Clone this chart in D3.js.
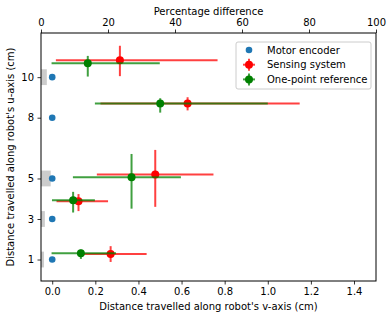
<!DOCTYPE html>
<html>
<head>
<meta charset="utf-8">
<script src="https://cdn.jsdelivr.net/npm/d3@7"></script>
<style>
  body { margin: 0; background: #fff; }
  svg { display: block; font-family: "DejaVu Sans", sans-serif; }
  .tick text { font-size: 10px; fill: #000; font-family: "DejaVu Sans", sans-serif; }
</style>
</head>
<body>
<svg id="chart" width="392" height="319"></svg>
<script>
// motor encoder readings (v, u)
const motorU = [1, 3, 5, 8, 10]
const motorV = [0, 0, 0, 0, 0]
// grey boxes on the left edge: right end of each box (cm), null = none
const boxRight = [-0.038, -0.034, -0.007, null, -0.025]

// sensing system (red)
const senseV = [0.271, 0.122, 0.478, 0.628, 0.314]
const senseU = [1.27, 3.88, 5.20, 8.70, 10.84]
const senseVlo = [0.144, 0.020, 0.207, 0.224, 0.017]
const senseVhi = [0.438, 0.259, 0.748, 1.148, 0.767]
const senseUlo = [0.88, 3.39, 3.60, 8.36, 10.05]
const senseUhi = [1.66, 4.23, 6.41, 9.01, 11.55]

// one-point reference (green)
const oneV = [0.133, 0.097, 0.368, 0.501, 0.165]
const oneU = [1.31, 3.93, 5.06, 8.70, 10.69]
const oneVlo = [-0.003, -0.001, 0.096, 0.198, -0.003]
const oneVhi = [0.296, 0.198, 0.597, 1.0, 0.499]
const oneUlo = [1.03, 3.32, 3.51, 8.25, 10.03]
const oneUhi = [1.49, 4.34, 6.21, 8.96, 11.05]

const xTicks = [0, 0.2, 0.4, 0.6, 0.8, 1.0, 1.2, 1.4]
const topTicks = [0, 20, 40, 60, 80, 100]
const yTicks = [1, 3, 5, 8, 10]

const margin = {top: 33, right: 16, bottom: 38, left: 41}
const width = 392 - margin.left - margin.right,
      height = 319 - margin.top - margin.bottom;

let svg = d3.select("#chart")
let chart = svg.append("g")
    .attr("transform", "translate(" + margin.left + "," + margin.top + ")");

let x = d3.scaleLinear().domain([-0.052, 1.502]).range([0, width])
let xTop = d3.scaleLinear().domain([0, 100]).range([0, width])
let y = d3.scaleLinear().domain([-0.06, 12.18]).range([height, 0])

svg.append("defs").append("clipPath").attr("id", "clip")
  .append("rect").attr("width", width).attr("height", height)

let plot = chart.append("g").attr("clip-path", "url(#clip)")

// grey boxes
motorU.forEach(function(u, i) {
  if (boxRight[i] === null) return
  plot.append("rect")
    .attr("x", x(-0.1))
    .attr("y", y(u + 0.39))
    .attr("width", x(boxRight[i]) - x(-0.1))
    .attr("height", y(u - 0.39) - y(u + 0.39))
    .attr("fill", "#cccccc")
})

// motor encoder points
motorU.forEach(function(u, i) {
  plot.append("circle")
    .attr("cx", x(motorV[i])).attr("cy", y(u)).attr("r", 3.3)
    .attr("fill", "#1f77b4")
})

function drawErr(vs, us, vlo, vhi, ulo, uhi, color) {
  let g = plot.append("g")
  vs.forEach(function(v, i) {
    g.append("line")
      .attr("x1", x(vlo[i])).attr("x2", x(vhi[i]))
      .attr("y1", y(us[i])).attr("y2", y(us[i]))
      .attr("stroke", color).attr("stroke-opacity", 0.75).attr("stroke-width", 2)
    g.append("line")
      .attr("x1", x(v)).attr("x2", x(v))
      .attr("y1", y(ulo[i])).attr("y2", y(uhi[i]))
      .attr("stroke", color).attr("stroke-opacity", 0.75).attr("stroke-width", 2)
  })
  vs.forEach(function(v, i) {
    g.append("circle")
      .attr("cx", x(v)).attr("cy", y(us[i])).attr("r", 4)
      .attr("fill", color)
  })
}
drawErr(senseV, senseU, senseVlo, senseVhi, senseUlo, senseUhi, "#ff0000")
drawErr(oneV, oneU, oneVlo, oneVhi, oneUlo, oneUhi, "#008000")

// axes
chart.append("g")
  .attr("transform", "translate(0," + height + ")")
  .call(d3.axisBottom(x).tickValues(xTicks).tickFormat(d3.format(".1f")).tickSize(3.5).tickPadding(3.5))
chart.append("g")
  .call(d3.axisTop(xTop).tickValues(topTicks).tickSize(3.5).tickPadding(3.5))
chart.append("g")
  .call(d3.axisLeft(y).tickValues(yTicks).tickSize(3.5).tickPadding(3.5))
chart.selectAll(".domain").remove()
chart.selectAll(".tick line").attr("stroke", "#000").attr("stroke-width", 0.8)

chart.append("rect")
  .attr("width", width).attr("height", height)
  .attr("fill", "none").attr("stroke", "#000").attr("stroke-width", 1)

// axis labels
svg.append("text")
  .attr("x", margin.left + width / 2).attr("y", 310)
  .attr("text-anchor", "middle").style("font-size", "10px")
  .text("Distance travelled along robot's v-axis (cm)")
svg.append("text")
  .attr("x", margin.left + width / 2).attr("y", 15)
  .attr("text-anchor", "middle").style("font-size", "10px")
  .text("Percentage difference")
svg.append("text")
  .attr("transform", "translate(14," + (margin.top + height / 2) + ") rotate(-90)")
  .attr("text-anchor", "middle").style("font-size", "10px")
  .text("Distance travelled along robot's u-axis (cm)")

// legend
let legend = svg.append("g").attr("transform", "translate(236,42)")
legend.append("rect")
  .attr("width", 135).attr("height", 47).attr("rx", 2)
  .attr("fill", "#fff").attr("fill-opacity", 0.8)
  .attr("stroke", "#ccc").attr("stroke-width", 1)
const legendNames = ["Motor encoder", "Sensing system", "One-point reference"]
const legendColors = ["#1f77b4", "#ff0000", "#008000"]
legendNames.forEach(function(name, i) {
  let ly = 8 + i * 14.7
  if (i > 0) {
    legend.append("line").attr("x1", 7).attr("x2", 19).attr("y1", ly).attr("y2", ly)
      .attr("stroke", legendColors[i]).attr("stroke-opacity", 0.75).attr("stroke-width", 2)
    legend.append("line").attr("x1", 13).attr("x2", 13).attr("y1", ly - 6).attr("y2", ly + 6)
      .attr("stroke", legendColors[i]).attr("stroke-opacity", 0.75).attr("stroke-width", 2)
  }
  legend.append("circle").attr("cx", 13).attr("cy", ly).attr("r", i > 0 ? 4 : 3.3)
    .attr("fill", legendColors[i])
  legend.append("text").attr("x", 31).attr("y", ly + 3.5)
    .style("font-size", "10px").text(name)
})
</script>
</body>
</html>
